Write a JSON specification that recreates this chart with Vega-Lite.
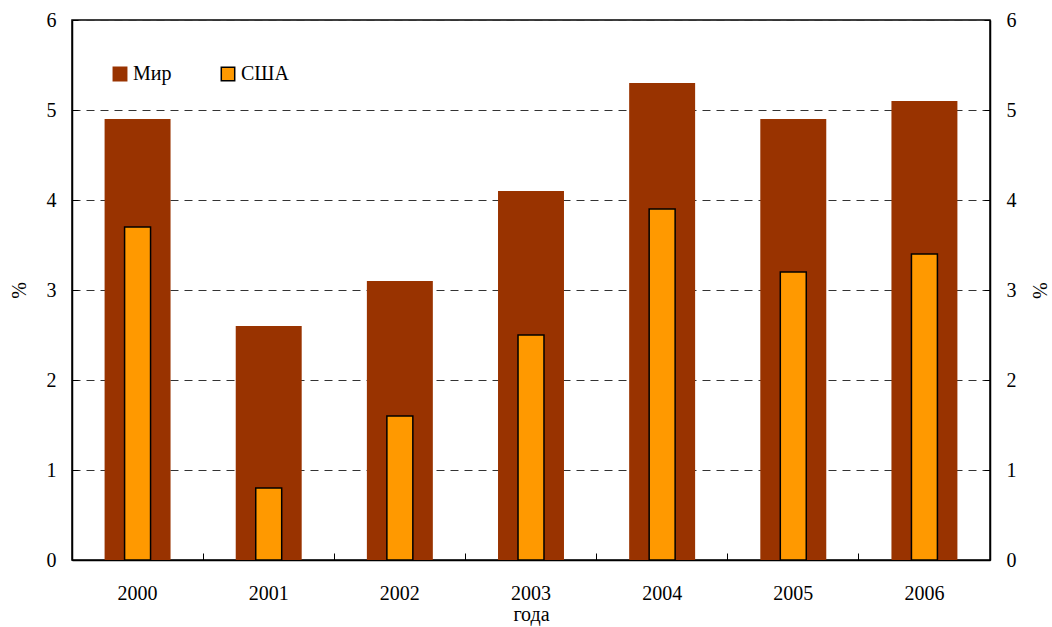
{
  "$schema": "https://vega.github.io/schema/vega-lite/v6.json",
  "autosize": "none",
  "width": 918,
  "height": 540,
  "padding": {"left": 72, "top": 20, "right": 62, "bottom": 67},
  "background": "white",
  "config": {
    "font": "Liberation Serif",
    "view": {"stroke": "black", "strokeWidth": 1.5},
    "axis": {"labelFont": "Liberation Serif", "titleFont": "Liberation Serif", "labelColor": "black", "titleColor": "black", "labelFontSize": 20, "titleFontSize": 20, "titleFontWeight": "normal", "domainColor": "black", "tickColor": "black", "labelOverlap": false},
    "legend": {"labelFont": "Liberation Serif", "labelFontSize": 20, "labelColor": "black"}
  },
  "data": {"values": [
    {"year": "2000", "series": "Мир", "value": 4.9},
    {"year": "2001", "series": "Мир", "value": 2.6},
    {"year": "2002", "series": "Мир", "value": 3.1},
    {"year": "2003", "series": "Мир", "value": 4.1},
    {"year": "2004", "series": "Мир", "value": 5.3},
    {"year": "2005", "series": "Мир", "value": 4.9},
    {"year": "2006", "series": "Мир", "value": 5.1},
    {"year": "2000", "series": "США", "value": 3.7},
    {"year": "2001", "series": "США", "value": 0.8},
    {"year": "2002", "series": "США", "value": 1.6},
    {"year": "2003", "series": "США", "value": 2.5},
    {"year": "2004", "series": "США", "value": 3.9},
    {"year": "2005", "series": "США", "value": 3.2},
    {"year": "2006", "series": "США", "value": 3.4}
  ]},
  "encoding": {
    "x": {"field": "year", "type": "ordinal", "scale": {"paddingInner": 0, "paddingOuter": 0},
      "axis": {"title": "года", "labelAngle": 0, "bandPosition": 0, "tickSize": -7, "tickWidth": 1, "domainWidth": 1.5, "labelPadding": 30, "titlePadding": 1}},
    "color": {"field": "series", "type": "nominal", "scale": {"domain": ["Мир", "США"], "range": ["#993300", "#FF9900"]},
      "legend": {"title": null, "orient": "none", "legendX": 38, "legendY": 44, "direction": "horizontal", "symbolType": "square", "symbolSize": 180, "symbolStrokeWidth": 1.5, "labelOffset": 3, "columnPadding": 46}},
    "stroke": {"field": "series", "type": "nominal", "scale": {"domain": ["Мир", "США"], "range": ["#993300", "black"]}, "legend": null}
  },
  "layer": [
    {
      "transform": [{"filter": "datum.series === 'Мир'"}],
      "mark": {"type": "bar", "width": {"band": 0.503}, "strokeWidth": 0},
      "encoding": {
        "y": {"field": "value", "type": "quantitative", "scale": {"domain": [0, 6]},
          "axis": {"title": "%", "orient": "left", "values": [0,1,2,3,4,5,6], "tickSize": -6, "labelPadding": 22, "titlePadding": 17, "grid": true, "gridColor": "#333333", "gridDash": [8, 6], "gridWidth": 1, "domainWidth": 1.5}}
      }
    },
    {
      "transform": [{"filter": "datum.series === 'США'"}],
      "mark": {"type": "bar", "width": {"band": 0.198}, "strokeWidth": 1.5},
      "encoding": {
        "y": {"field": "value", "type": "quantitative", "scale": {"domain": [0, 6]},
          "axis": {"title": "%", "orient": "right", "titleAngle": 90, "values": [0,1,2,3,4,5,6], "tickSize": -6, "labelPadding": 22, "titlePadding": 12, "grid": false, "domainWidth": 1.5}}
      }
    }
  ],
  "resolve": {"axis": {"y": "independent"}, "scale": {"y": "shared"}}
}
